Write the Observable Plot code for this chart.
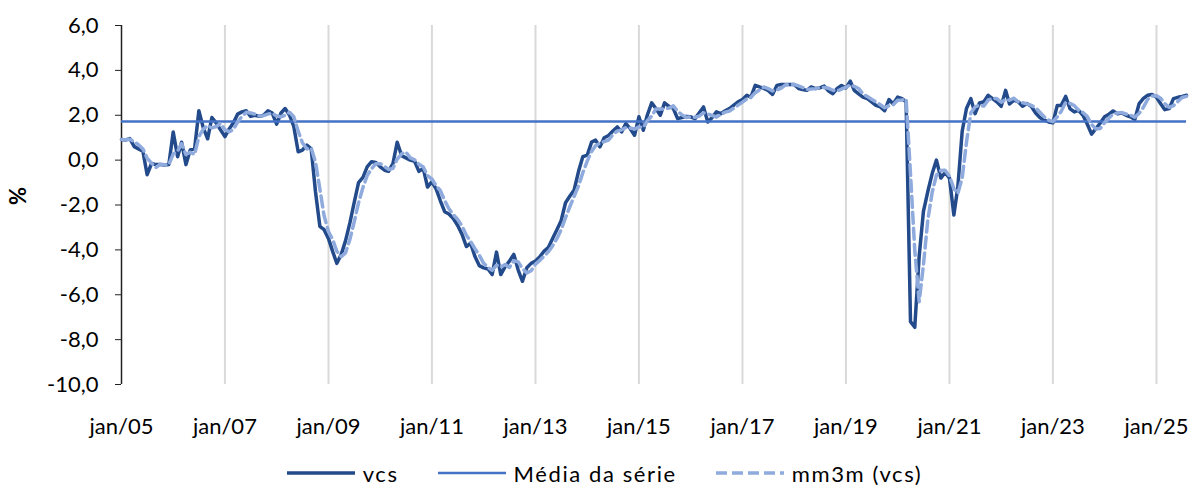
<!DOCTYPE html>
<html>
<head>
<meta charset="utf-8">
<script src="https://cdn.jsdelivr.net/npm/d3@7"></script>
<script src="https://cdn.jsdelivr.net/npm/@observablehq/plot@0.6"></script>
<style>
  html, body { margin: 0; padding: 0; background: #fff; }
  body { width: 1194px; height: 486px; overflow: hidden; font-family: Lato, "Open Sans", sans-serif; }
  #legend { display: flex; justify-content: center; align-items: center; height: 30px; margin-top: 8px;
            font-size: 22px; letter-spacing: 1.6px; color: #000; padding-left: 14px; }
  #legend .item { display: flex; align-items: center; margin: 0 19px; }
  #legend svg { margin-right: 7px; }
</style>
</head>
<body>
<div id="chart"></div>
<div id="legend"></div>
<script>
// Monthly values (%), series "vcs", Jan/2005 – Aug/2025
const vcs2005 = [0.92, 0.9, 0.96, 0.6, 0.5, 0.4, -0.65, -0.15, -0.2, -0.2, -0.22, -0.2];
const vcs2006 = [1.25, 0.15, 0.8, -0.2, 0.45, 0.5, 2.2, 1.45, 0.95, 1.9, 1.65, 1.35];
const vcs2007 = [1.05, 1.4, 1.65, 2.05, 2.15, 2.2, 1.95, 2.0, 1.95, 2.0, 2.2, 2.1];
const vcs2008 = [1.6, 2.1, 2.3, 2.0, 1.5, 0.37, 0.45, 0.67, 0.5, -1.4, -2.95, -3.1];
const vcs2009 = [-3.5, -4.1, -4.6, -4.2, -3.6, -2.8, -1.9, -1.0, -0.77, -0.3, -0.07, -0.1];
const vcs2010 = [-0.3, -0.45, -0.5, -0.15, 0.8, 0.2, 0.1, 0.0, -0.05, -0.5, -0.37, -1.2];
const vcs2011 = [-0.96, -1.3, -1.8, -2.3, -2.4, -2.6, -2.9, -3.3, -3.85, -3.7, -4.3, -4.7];
const vcs2012 = [-4.8, -4.85, -5.1, -4.1, -5.1, -4.75, -4.5, -4.2, -4.9, -5.4, -4.8, -4.6];
const vcs2013 = [-4.5, -4.3, -4.07, -3.9, -3.5, -3.1, -2.7, -1.9, -1.6, -1.33, -0.5, 0.15];
const vcs2014 = [0.22, 0.8, 0.89, 0.59, 1.0, 1.1, 1.3, 1.48, 1.26, 1.63, 1.4, 1.11];
const vcs2015 = [1.93, 1.33, 2.0, 2.55, 2.3, 2.0, 2.55, 2.4, 2.3, 1.85, 1.9, 1.95];
const vcs2016 = [1.93, 1.85, 2.1, 2.37, 1.7, 1.9, 2.15, 2.07, 2.2, 2.3, 2.45, 2.6];
const vcs2017 = [2.7, 2.89, 2.8, 3.33, 3.26, 3.2, 3.11, 2.93, 3.33, 3.37, 3.37, 3.37];
const vcs2018 = [3.37, 3.19, 3.15, 3.11, 3.26, 3.19, 3.22, 3.3, 3.08, 2.96, 3.2, 3.33];
const vcs2019 = [3.22, 3.52, 3.11, 2.95, 2.81, 2.74, 2.6, 2.44, 2.37, 2.2, 2.7, 2.5];
const vcs2020 = [2.81, 2.74, 2.6, -7.2, -7.45, -4.3, -2.3, -1.4, -0.6, 0.0, -0.8, -0.55];
const vcs2021 = [-0.8, -2.45, -1.2, 1.3, 2.3, 2.74, 2.07, 2.55, 2.6, 2.89, 2.74, 2.6];
const vcs2022 = [2.4, 3.11, 2.5, 2.67, 2.6, 2.4, 2.52, 2.4, 2.1, 1.9, 1.78, 1.7];
const vcs2023 = [1.66, 2.44, 2.44, 2.84, 2.3, 2.15, 2.22, 2.0, 1.6, 1.16, 1.41, 1.65];
const vcs2024 = [1.93, 2.05, 2.19, 2.07, 2.1, 2.0, 1.93, 1.81, 2.52, 2.75, 2.89, 2.93];
const vcs2025 = [2.8, 2.5, 2.25, 2.3, 2.74, 2.8, 2.84, 2.89];

const years = [2005, 2006, 2007, 2008, 2009, 2010, 2011, 2012, 2013, 2014, 2015,
               2016, 2017, 2018, 2019, 2020, 2021, 2022, 2023, 2024, 2025];
const yearlyValues = [vcs2005, vcs2006, vcs2007, vcs2008, vcs2009, vcs2010, vcs2011,
                      vcs2012, vcs2013, vcs2014, vcs2015, vcs2016, vcs2017, vcs2018,
                      vcs2019, vcs2020, vcs2021, vcs2022, vcs2023, vcs2024, vcs2025];

const mediaSerie = 1.72;                          // "Média da série"
const yTicks = [-10, -8, -6, -4, -2, 0, 2, 4, 6];
const xTickYears = [2005, 2007, 2009, 2011, 2013, 2015, 2017, 2019, 2021, 2023, 2025];
const seriesNames = ["vcs", "Média da série", "mm3m (vcs)"];

const colVcs = "#234a8a", colMedia = "#4472c4", colMm = "#8faadc";

const data = [];
years.forEach((yr, i) => yearlyValues[i].forEach((v, m) => data.push({date: new Date(Date.UTC(yr, m, 1)), vcs: v})));
const xStart = data[0].date, xEnd = data[data.length - 1].date;
const xTicks = xTickYears.map(y => new Date(Date.UTC(y, 0, 1)));
const gridTicks = xTicks.slice(1);

const fmtY = d => d.toFixed(1).replace(".", ",");
const fmtX = d => "jan/" + String(d.getUTCFullYear()).slice(2);

const chart = Plot.plot({
  width: 1194,
  height: 450,
  marginLeft: 121,
  marginRight: 8,
  marginTop: 25,
  marginBottom: 66,
  style: {fontFamily: "Lato, 'Open Sans', sans-serif", fontSize: "22px", color: "#000", background: "#fff"},
  x: {type: "utc", domain: [xStart, xEnd]},
  y: {domain: [-10, 6]},
  marks: [
    Plot.ruleX(gridTicks, {stroke: "#d9d9d9", strokeWidth: 2}),
    Plot.ruleX([xStart], {stroke: "#222", strokeWidth: 1.5}),
    Plot.axisY({ticks: yTicks, tickFormat: fmtY, tickSize: 6, tickPadding: 17, label: null, stroke: "#222", fontSize: 22}),
    Plot.axisX({ticks: xTicks, tickFormat: fmtX, tickSize: 0, tickPadding: 34, label: null, fontSize: 22, style: "letter-spacing:1px"}),
    Plot.text(["%"], {frameAnchor: "left", dx: -103, rotate: -90, fontWeight: "bold", fontSize: 22, fill: "#000"}),
    Plot.lineY(data, {x: "date", y: "vcs", stroke: colVcs, strokeWidth: 3.5, strokeLinejoin: "round"}),
    Plot.ruleY([mediaSerie], {stroke: colMedia, strokeWidth: 2.5}),
    Plot.lineY(data, Plot.windowY({k: 3, anchor: "end", reduce: "mean"},
      {x: "date", y: "vcs", stroke: colMm, strokeWidth: 3.5, strokeDasharray: "11,5"}))
  ]
});
document.getElementById("chart").appendChild(chart);

const legendSpecs = [
  {name: seriesNames[0], color: colVcs, width: 3.5, dash: null},
  {name: seriesNames[1], color: colMedia, width: 2.5, dash: null},
  {name: seriesNames[2], color: colMm, width: 3.5, dash: "11,5"}
];
const legend = document.getElementById("legend");
legendSpecs.forEach(s => {
  const item = document.createElement("div");
  item.className = "item";
  item.innerHTML = `<svg width="70" height="10"><line x1="1" x2="69" y1="5" y2="5" stroke="${s.color}" stroke-width="${s.width}" ${s.dash ? `stroke-dasharray="${s.dash}"` : ""}/></svg><span>${s.name}</span>`;
  legend.appendChild(item);
});
</script>
</body>
</html>
